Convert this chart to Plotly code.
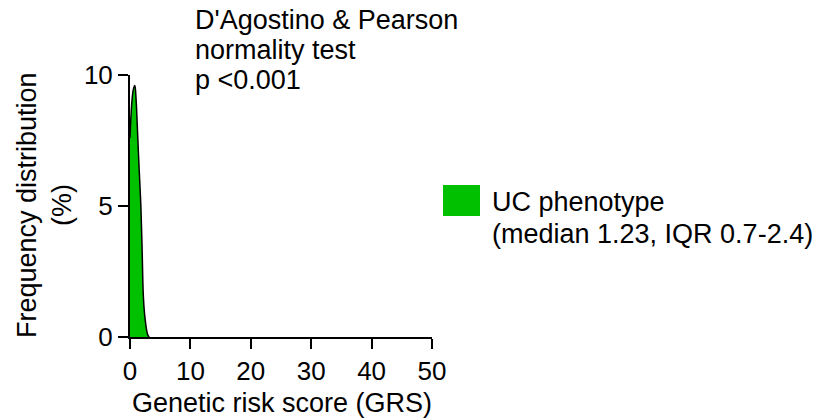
import plotly.graph_objects as go

# Data (GRS vs frequency %)
grs = [0.0, 0.2, 0.4, 0.6, 0.8, 1.0, 1.2, 1.4, 1.6, 1.8, 2.0, 2.2, 2.4, 2.6, 2.8, 3.0, 3.2]
freq_pct = [7.6, 8.6, 9.2, 9.5, 9.6, 9.1, 8.1, 7.0, 6.0, 5.0, 3.4, 1.6, 0.9, 0.5, 0.2, 0.05, 0.0]
x_ticks = [0, 10, 20, 30, 40, 50]
y_ticks = [0, 5, 10]
series_lines = ["UC phenotype", "(median 1.23, IQR 0.7-2.4)"]
test_lines = ["D'Agostino & Pearson", "normality test", "p <0.001"]
y_title_lines = ["Frequency distribution", "(%)"]
x_title = "Genetic risk score (GRS)"

FONT = "Liberation Sans, Arial, sans-serif"
GREEN = "#00c000"
FS = 27

# plot area in pixels
L, R, T, B = 130, 432, 75, 337
PW, PH = R - L, B - T


def px(xp):
    return (xp - L) / PW


def py(yp):
    return (B - yp) / PH


fig = go.Figure()
fig.add_trace(go.Scatter(
    x=grs, y=freq_pct, mode="lines", fill="tozeroy",
    fillcolor=GREEN, line=dict(color="black", width=1.5, shape="spline"),
    showlegend=False,
))

fig.update_layout(
    width=819, height=420,
    margin=dict(l=L, r=819 - R, t=T, b=420 - B),
    paper_bgcolor="white", plot_bgcolor="white",
    font=dict(family=FONT, size=FS, color="black"),
    xaxis=dict(range=[0, 50], tickvals=x_ticks, showgrid=False, zeroline=False,
               showline=True, linecolor="black", linewidth=2,
               ticks="outside", ticklen=10, tickwidth=2, tickcolor="black",
               tickfont=dict(size=26)),
    yaxis=dict(range=[0, 10], tickvals=y_ticks, showgrid=False, zeroline=False,
               showline=True, linecolor="black", linewidth=2,
               ticks="outside", ticklen=10, tickwidth=2, tickcolor="black",
               tickfont=dict(size=26)),
)

# Axis titles
fig.add_annotation(text=x_title, xref="paper", yref="paper",
                   x=px(282), y=py(403), xanchor="center", yanchor="middle",
                   showarrow=False, font=dict(size=FS))
for txt, xc in zip(y_title_lines, [27, 62]):
    fig.add_annotation(text=txt, xref="paper", yref="paper",
                       x=px(xc), y=py(205), xanchor="center", yanchor="middle",
                       textangle=-90, showarrow=False, font=dict(size=FS))

# Test annotation
for txt, yc in zip(test_lines, [20, 50, 80]):
    fig.add_annotation(text=txt, xref="paper", yref="paper",
                       x=px(193), y=py(yc), xanchor="left", yanchor="middle",
                       align="left", showarrow=False, font=dict(size=FS))

# Legend (manual)
fig.add_shape(type="rect", xref="paper", yref="paper",
              x0=px(443), x1=px(480), y0=py(216), y1=py(185),
              fillcolor=GREEN, line=dict(width=0))
for txt, yc in zip(series_lines, [202, 234]):
    fig.add_annotation(text=txt, xref="paper", yref="paper",
                       x=px(490), y=py(yc), xanchor="left", yanchor="middle",
                       align="left", showarrow=False, font=dict(size=FS))

fig.write_html("out.html")
